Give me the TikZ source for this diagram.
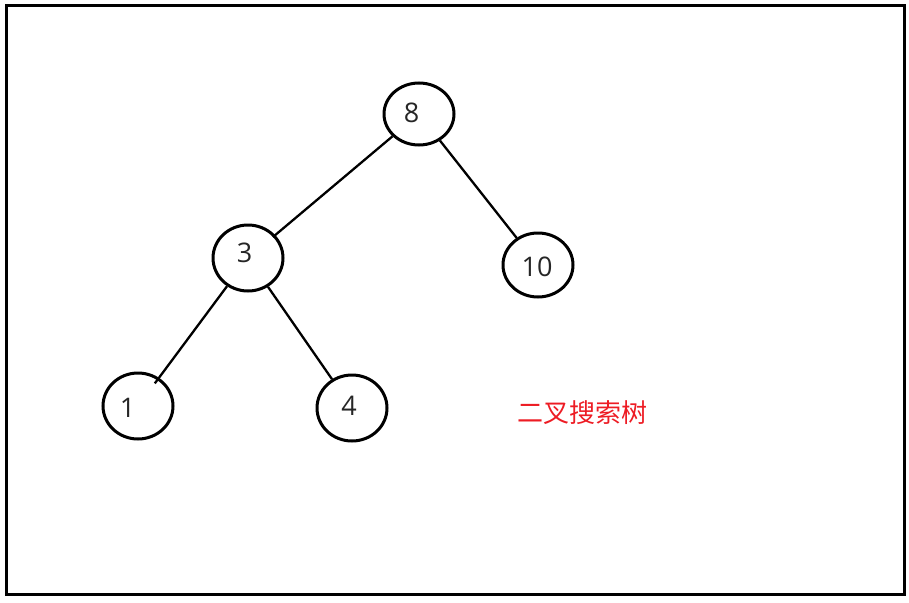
\documentclass[tikz,border=0pt]{standalone}
\usepackage{fontspec}
\usetikzlibrary{shapes.geometric}
\setmainfont{Open Sans}
\newfontfamily\cjk{Noto Sans CJK SC}
\definecolor{labelred}{RGB}{237,28,36}
\begin{document}
\begin{tikzpicture}[x=1pt,y=-1pt,
  tnode/.style={draw=black, line width=3pt, ellipse, minimum width=70pt, minimum height=64pt, inner sep=0pt},
  numtext/.style={font=\fontsize{27}{30}\selectfont, text=black!85, inner sep=0pt},
  tedge/.style={draw=black, line width=2.3pt}]
\useasboundingbox (0,0) rectangle (909,602);
\draw[line width=3pt] (6,6) rectangle (904,594);
\node[tnode, minimum height=62pt, label={[numtext, xshift=-7.5pt, yshift=1pt]center:8}] (n8) at (419,114) {};
\node[tnode, minimum height=66pt, label={[numtext, xshift=-3.5pt, yshift=5.5pt]center:3}] (n3) at (248,258) {};
\node[tnode, minimum height=64pt, label={[numtext, xshift=-1pt, yshift=-1.5pt]center:10}] (n10) at (538,265) {};
\node[tnode, minimum height=66pt, label={[numtext, xshift=-10.5pt, yshift=-2pt]center:1}] (n1) at (138,406) {};
\node[tnode, minimum height=66pt, label={[numtext, xshift=-3pt, yshift=2pt]center:4}] (n4) at (352,408) {};
\path[tedge, shorten >=-3pt] (n8) -- (n3);
\path[tedge] (n8) -- (n10);
\path[tedge, shorten >=-7pt] (n3) -- (n1);
\path[tedge] (n3) -- (n4);
\node[text=labelred, font=\cjk\fontsize{26}{29}\selectfont, inner sep=0pt] (lbl) at (582.5,413) {二叉搜索树};
\end{tikzpicture}
\end{document}
